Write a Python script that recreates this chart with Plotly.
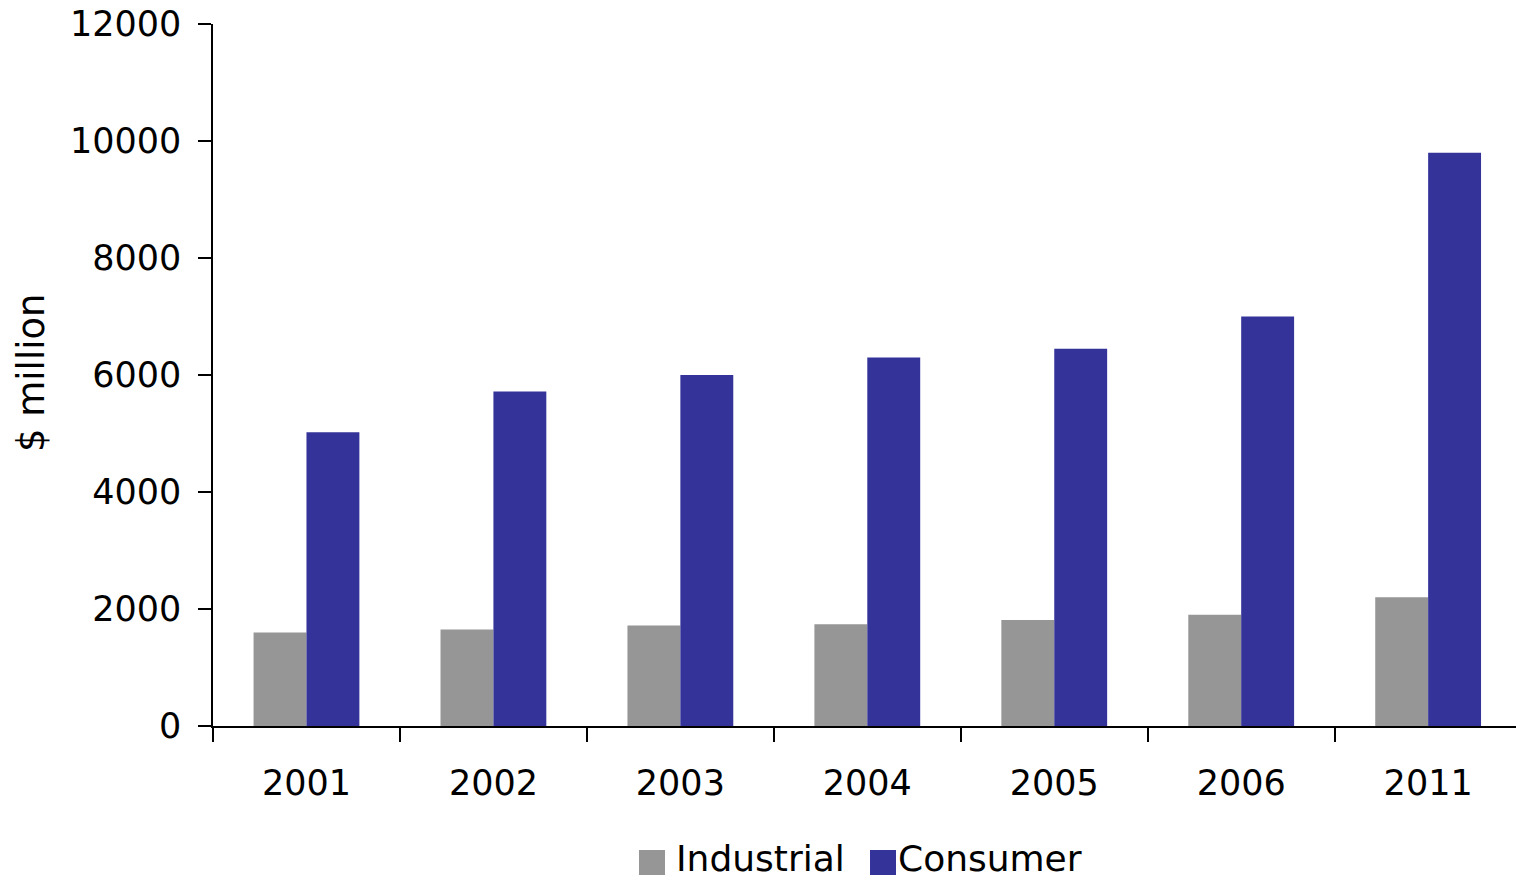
import plotly.graph_objects as go

years = ["2001", "2002", "2003", "2004", "2005", "2006", "2011"]
industrial = [1600, 1650, 1720, 1740, 1810, 1900, 2200]
consumer = [5020, 5720, 6000, 6300, 6450, 7000, 9800]
y_ticks = [0, 2000, 4000, 6000, 8000, 10000, 12000]
y_tick_text = [str(v) for v in y_ticks]

FONT = "DejaVu Sans"
GREY = "#969696"
BLUE = "#333399"

W, H = 1516, 881
ML, MR, MT, MB = 213, 0, 24, 155
PW, PH = W - ML - MR, H - MT - MB


def px_x(px):
    """pixel column -> paper x"""
    return (px - ML) / PW


def px_y(py):
    """pixel row -> paper y"""
    return (H - MB - py) / PH


fig = go.Figure()
fig.add_trace(go.Bar(name="Industrial", x=years, y=industrial, showlegend=False,
                     marker=dict(color=GREY, line=dict(width=0))))
fig.add_trace(go.Bar(name="Consumer", x=years, y=consumer, showlegend=False,
                     marker=dict(color=BLUE, line=dict(width=0))))

# legend row below the axis: square swatch + label
legend_items = [("Industrial", GREY, 639, 675), ("Consumer", BLUE, 870, 897)]
shapes, annotations = [], []
for name, color, sx, tx in legend_items:
    shapes.append(dict(type="rect", xref="paper", yref="paper",
                       x0=px_x(sx), x1=px_x(sx + 26), y0=px_y(875), y1=px_y(850),
                       fillcolor=color, line=dict(width=0)))
    annotations.append(dict(text=name, xref="paper", yref="paper",
                            x=px_x(tx), y=px_y(858), xanchor="left", yanchor="middle",
                            borderpad=0, showarrow=False, font=dict(size=36)))

annotations.append(dict(text="$ million", xref="paper", yref="paper",
                        x=px_x(31), y=px_y(373), xanchor="center", yanchor="middle",
                        textangle=-90, showarrow=False, font=dict(size=37)))

fig.update_layout(
    width=W, height=H,
    margin=dict(l=ML, r=MR, t=MT, b=MB, autoexpand=False),
    paper_bgcolor="white", plot_bgcolor="white",
    barmode="group", bargap=0.434, bargroupgap=0,
    font=dict(family=FONT, size=35, color="black"),
    showlegend=False,
    xaxis=dict(type="category", range=[-0.5, 6.47], showline=True, linecolor="black",
               linewidth=1.5, ticks="outside", tickson="boundaries", ticklen=14,
               tickwidth=1.5, tickcolor="black", showgrid=False, zeroline=False,
               tickfont=dict(size=35), ticklabelstandoff=25, automargin=False),
    yaxis=dict(range=[0, 12000], tickvals=y_ticks, ticktext=y_tick_text,
               showline=True, linecolor="black",
               linewidth=1.5, ticks="outside", ticklen=13, tickwidth=1.5,
               tickcolor="black", showgrid=False, zeroline=False,
               tickfont=dict(size=35), ticklabelstandoff=10, automargin=False),
    shapes=shapes,
    annotations=annotations,
)

fig.write_html("out.html")
